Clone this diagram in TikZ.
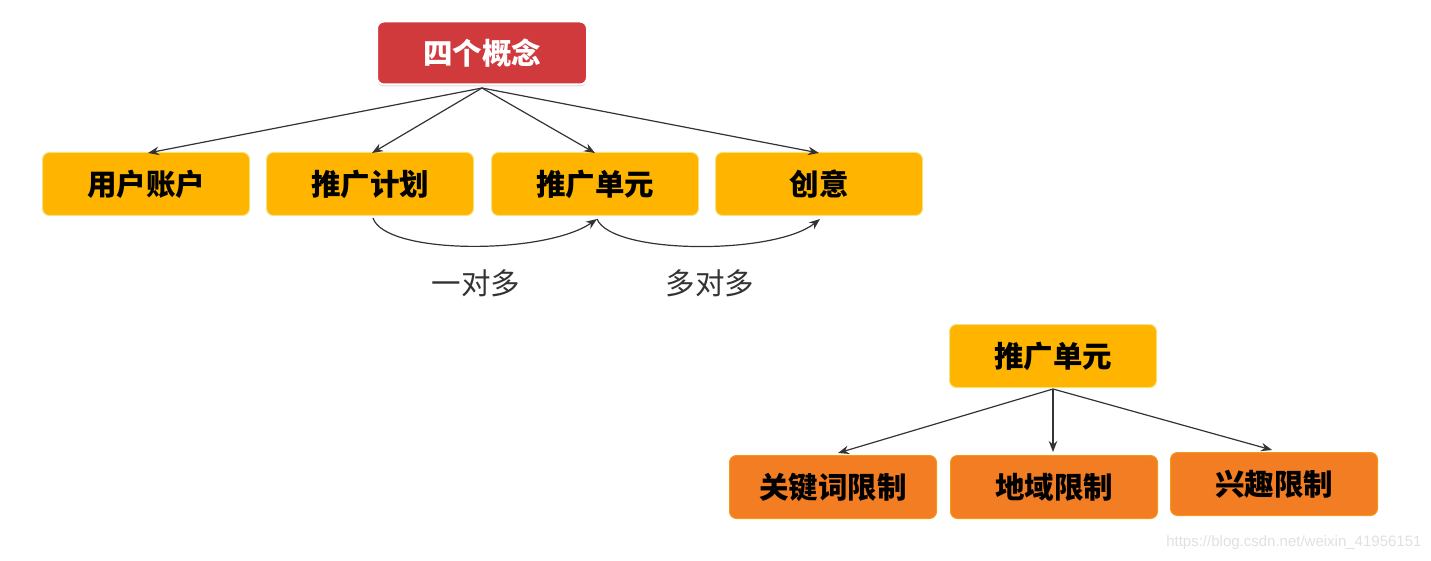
\documentclass[tikz,border=0pt]{standalone}
\usepackage{fontspec}
\newfontfamily\cjk{Noto Sans CJK SC}
\newfontfamily\wm{Liberation Sans}
\usetikzlibrary{arrows.meta,shadows,calc}
\definecolor{boxyellow}{HTML}{FFB400}
\definecolor{boxedge}{HTML}{F2E27A}
\definecolor{boxorange}{HTML}{F37D22}
\definecolor{boxred}{HTML}{D13A3D}
\definecolor{txtgray}{HTML}{333333}
\tikzset{
  ybox/.style={draw=boxedge, line width=1pt, fill=boxyellow, rounded corners=7pt,
    minimum width=207pt, minimum height=63pt, inner sep=0pt,
    font=\cjk\bfseries\fontsize{29.5}{29.5}\selectfont, text=black},
  obox/.style={ybox, fill=boxorange, draw=boxorange!80!yellow},
  rbox/.style={draw=white, line width=2pt, fill=boxred, rounded corners=7pt,
    minimum width=210pt, minimum height=63pt, inner sep=0pt,
    drop shadow={shadow xshift=0pt, shadow yshift=-2pt, opacity=0.3},
    font=\cjk\bfseries\fontsize{29.5}{29.5}\selectfont, text=white},
  conn/.style={draw=black!80, line width=1.2pt, -{Stealth[length=11pt,width=8.5pt]}},
  lbl/.style={font=\cjk\fontsize{29.5}{29.5}\selectfont, text=txtgray},
}
\begin{document}
\begin{tikzpicture}[x=1pt,y=-1pt]
\useasboundingbox (0,0) rectangle (1431,561);
\node[rbox] (top) at (482,53) {四个概念};
\node[ybox] (acct) at (146,184) {用户账户};
\node[ybox] (plan) at (370,184) {推广计划};
\node[ybox] (unit) at (595,184) {推广单元};
\node[ybox] (idea) at (819,184) {创意};
\coordinate (hub) at (482,88);
\draw[conn] (hub) -- ($(acct.north)+(2,1)$);
\draw[conn] (hub) -- ($(plan.north)+(2,1)$);
\draw[conn] (hub) -- ($(unit.north)+(0,1)$);
\draw[conn] (hub) -- ($(idea.north)+(0,1)$);
\draw[conn] ($(plan.south)+(3,2)$) .. controls (385,255) and (545,255) .. ($(unit.south)+(2,3)$);
\draw[conn] ($(unit.south)+(2,3)$) .. controls (612,255) and (775,255) .. ($(idea.south)+(1,3)$);
\node[lbl] (l1) at (476,283) {一对多};
\node[lbl] (l2) at (710,283) {多对多};
\node[ybox] (unit2) at (1053,356) {推广单元};
\node[obox] (kw) at (833,487) {关键词限制};
\node[obox] (geo) at (1054,487) {地域限制};
\node[obox] (int) at (1274,484) {兴趣限制};
\coordinate (hub2) at (1053,389);
\draw[conn] (hub2) -- ($(kw.north)+(5,-2)$);
\draw[conn] (hub2) -- ($(geo.north)+(-1,-3)$);
\draw[conn] (hub2) -- ($(int.north)+(-2,-2)$);
\node[font=\wm\fontsize{15}{15}\selectfont, text=black!12, anchor=east] (wmk) at (1425,543) {https://blog.csdn.net/weixin\_41956151};
\end{tikzpicture}
\end{document}
